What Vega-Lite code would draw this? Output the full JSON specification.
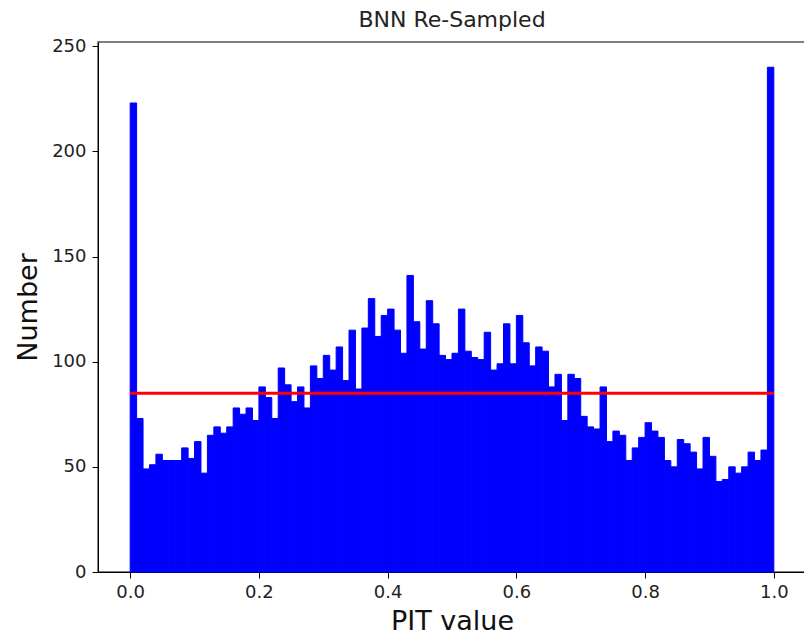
{
  "$schema": "https://vega.github.io/schema/vega-lite/v6.json",
  "width": 708,
  "height": 530,
  "autosize": {"type": "none"},
  "padding": {"left": 98, "top": 42, "right": 0, "bottom": 68},
  "background": "white",
  "config": {
    "font": "DejaVu Sans",
    "view": {"stroke": "#555555", "strokeWidth": 1.5},
    "axis": {
      "grid": false,
      "domainColor": "#000000",
      "tickColor": "#000000",
      "tickSize": 6,
      "labelColor": "#222222",
      "labelFontSize": 18,
      "labelFont": "DejaVu Sans",
      "titleFont": "DejaVu Sans",
      "titleFontSize": 27,
      "titleFontWeight": "normal",
      "titleColor": "#111111"
    }
  },
  "title": {
    "text": "BNN Re-Sampled",
    "fontSize": 22,
    "fontWeight": "normal",
    "font": "DejaVu Sans",
    "color": "#222222",
    "offset": 5
  },
  "datasets": {
    "hist": [
      {"bin_start": 0.00, "bin_end": 0.01, "count": 223},
      {"bin_start": 0.01, "bin_end": 0.02, "count": 73},
      {"bin_start": 0.02, "bin_end": 0.03, "count": 49},
      {"bin_start": 0.03, "bin_end": 0.04, "count": 51},
      {"bin_start": 0.04, "bin_end": 0.05, "count": 56},
      {"bin_start": 0.05, "bin_end": 0.06, "count": 53},
      {"bin_start": 0.06, "bin_end": 0.07, "count": 53},
      {"bin_start": 0.07, "bin_end": 0.08, "count": 53},
      {"bin_start": 0.08, "bin_end": 0.09, "count": 59},
      {"bin_start": 0.09, "bin_end": 0.10, "count": 54},
      {"bin_start": 0.10, "bin_end": 0.11, "count": 62},
      {"bin_start": 0.11, "bin_end": 0.12, "count": 47},
      {"bin_start": 0.12, "bin_end": 0.13, "count": 65},
      {"bin_start": 0.13, "bin_end": 0.14, "count": 69},
      {"bin_start": 0.14, "bin_end": 0.15, "count": 66},
      {"bin_start": 0.15, "bin_end": 0.16, "count": 69},
      {"bin_start": 0.16, "bin_end": 0.17, "count": 78},
      {"bin_start": 0.17, "bin_end": 0.18, "count": 75},
      {"bin_start": 0.18, "bin_end": 0.19, "count": 78},
      {"bin_start": 0.19, "bin_end": 0.20, "count": 72},
      {"bin_start": 0.20, "bin_end": 0.21, "count": 88},
      {"bin_start": 0.21, "bin_end": 0.22, "count": 83},
      {"bin_start": 0.22, "bin_end": 0.23, "count": 73},
      {"bin_start": 0.23, "bin_end": 0.24, "count": 97},
      {"bin_start": 0.24, "bin_end": 0.25, "count": 89},
      {"bin_start": 0.25, "bin_end": 0.26, "count": 81},
      {"bin_start": 0.26, "bin_end": 0.27, "count": 88},
      {"bin_start": 0.27, "bin_end": 0.28, "count": 78},
      {"bin_start": 0.28, "bin_end": 0.29, "count": 98},
      {"bin_start": 0.29, "bin_end": 0.30, "count": 92},
      {"bin_start": 0.30, "bin_end": 0.31, "count": 103},
      {"bin_start": 0.31, "bin_end": 0.32, "count": 96},
      {"bin_start": 0.32, "bin_end": 0.33, "count": 107},
      {"bin_start": 0.33, "bin_end": 0.34, "count": 91},
      {"bin_start": 0.34, "bin_end": 0.35, "count": 115},
      {"bin_start": 0.35, "bin_end": 0.36, "count": 87},
      {"bin_start": 0.36, "bin_end": 0.37, "count": 116},
      {"bin_start": 0.37, "bin_end": 0.38, "count": 130},
      {"bin_start": 0.38, "bin_end": 0.39, "count": 112},
      {"bin_start": 0.39, "bin_end": 0.40, "count": 122},
      {"bin_start": 0.40, "bin_end": 0.41, "count": 125},
      {"bin_start": 0.41, "bin_end": 0.42, "count": 115},
      {"bin_start": 0.42, "bin_end": 0.43, "count": 104},
      {"bin_start": 0.43, "bin_end": 0.44, "count": 141},
      {"bin_start": 0.44, "bin_end": 0.45, "count": 119},
      {"bin_start": 0.45, "bin_end": 0.46, "count": 106},
      {"bin_start": 0.46, "bin_end": 0.47, "count": 129},
      {"bin_start": 0.47, "bin_end": 0.48, "count": 118},
      {"bin_start": 0.48, "bin_end": 0.49, "count": 103},
      {"bin_start": 0.49, "bin_end": 0.50, "count": 101},
      {"bin_start": 0.50, "bin_end": 0.51, "count": 104},
      {"bin_start": 0.51, "bin_end": 0.52, "count": 125},
      {"bin_start": 0.52, "bin_end": 0.53, "count": 105},
      {"bin_start": 0.53, "bin_end": 0.54, "count": 102},
      {"bin_start": 0.54, "bin_end": 0.55, "count": 101},
      {"bin_start": 0.55, "bin_end": 0.56, "count": 114},
      {"bin_start": 0.56, "bin_end": 0.57, "count": 96},
      {"bin_start": 0.57, "bin_end": 0.58, "count": 99},
      {"bin_start": 0.58, "bin_end": 0.59, "count": 118},
      {"bin_start": 0.59, "bin_end": 0.60, "count": 99},
      {"bin_start": 0.60, "bin_end": 0.61, "count": 122},
      {"bin_start": 0.61, "bin_end": 0.62, "count": 109},
      {"bin_start": 0.62, "bin_end": 0.63, "count": 98},
      {"bin_start": 0.63, "bin_end": 0.64, "count": 107},
      {"bin_start": 0.64, "bin_end": 0.65, "count": 105},
      {"bin_start": 0.65, "bin_end": 0.66, "count": 88},
      {"bin_start": 0.66, "bin_end": 0.67, "count": 94},
      {"bin_start": 0.67, "bin_end": 0.68, "count": 72},
      {"bin_start": 0.68, "bin_end": 0.69, "count": 94},
      {"bin_start": 0.69, "bin_end": 0.70, "count": 92},
      {"bin_start": 0.70, "bin_end": 0.71, "count": 74},
      {"bin_start": 0.71, "bin_end": 0.72, "count": 69},
      {"bin_start": 0.72, "bin_end": 0.73, "count": 68},
      {"bin_start": 0.73, "bin_end": 0.74, "count": 88},
      {"bin_start": 0.74, "bin_end": 0.75, "count": 62},
      {"bin_start": 0.75, "bin_end": 0.76, "count": 67},
      {"bin_start": 0.76, "bin_end": 0.77, "count": 65},
      {"bin_start": 0.77, "bin_end": 0.78, "count": 53},
      {"bin_start": 0.78, "bin_end": 0.79, "count": 59},
      {"bin_start": 0.79, "bin_end": 0.80, "count": 64},
      {"bin_start": 0.80, "bin_end": 0.81, "count": 71},
      {"bin_start": 0.81, "bin_end": 0.82, "count": 67},
      {"bin_start": 0.82, "bin_end": 0.83, "count": 64},
      {"bin_start": 0.83, "bin_end": 0.84, "count": 53},
      {"bin_start": 0.84, "bin_end": 0.85, "count": 50},
      {"bin_start": 0.85, "bin_end": 0.86, "count": 63},
      {"bin_start": 0.86, "bin_end": 0.87, "count": 61},
      {"bin_start": 0.87, "bin_end": 0.88, "count": 57},
      {"bin_start": 0.88, "bin_end": 0.89, "count": 49},
      {"bin_start": 0.89, "bin_end": 0.90, "count": 64},
      {"bin_start": 0.90, "bin_end": 0.91, "count": 55},
      {"bin_start": 0.91, "bin_end": 0.92, "count": 43},
      {"bin_start": 0.92, "bin_end": 0.93, "count": 44},
      {"bin_start": 0.93, "bin_end": 0.94, "count": 50},
      {"bin_start": 0.94, "bin_end": 0.95, "count": 47},
      {"bin_start": 0.95, "bin_end": 0.96, "count": 50},
      {"bin_start": 0.96, "bin_end": 0.97, "count": 57},
      {"bin_start": 0.97, "bin_end": 0.98, "count": 53},
      {"bin_start": 0.98, "bin_end": 0.99, "count": 58},
      {"bin_start": 0.99, "bin_end": 1.00, "count": 240}
    ],
    "mean": [{"x_start": 0, "x_end": 1, "level": 85}]
  },
  "layer": [
    {
      "data": {"name": "hist"},
      "mark": {"type": "rect", "color": "#0000ff", "stroke": "#0000ff", "strokeWidth": 1},
      "encoding": {
        "x": {
          "field": "bin_start",
          "type": "quantitative",
          "scale": {"domain": [-0.05, 1.05], "nice": false, "zero": false},
          "axis": {
            "title": "PIT value",
            "values": [0, 0.2, 0.4, 0.6, 0.8, 1.0],
            "format": ".1f",
            "labelPadding": 5,
            "titlePadding": 7
          }
        },
        "x2": {"field": "bin_end"},
        "y": {
          "field": "count",
          "type": "quantitative",
          "scale": {"domain": [0, 252], "nice": false},
          "axis": {
            "title": "Number",
            "values": [0, 50, 100, 150, 200, 250],
            "labelPadding": 6,
            "titlePadding": 9
          }
        },
        "y2": {"datum": 0}
      }
    },
    {
      "data": {"name": "mean"},
      "mark": {"type": "rule", "color": "#ff0000", "strokeWidth": 3},
      "encoding": {
        "x": {"field": "x_start", "type": "quantitative"},
        "x2": {"field": "x_end"},
        "y": {"field": "level", "type": "quantitative"}
      }
    }
  ]
}
